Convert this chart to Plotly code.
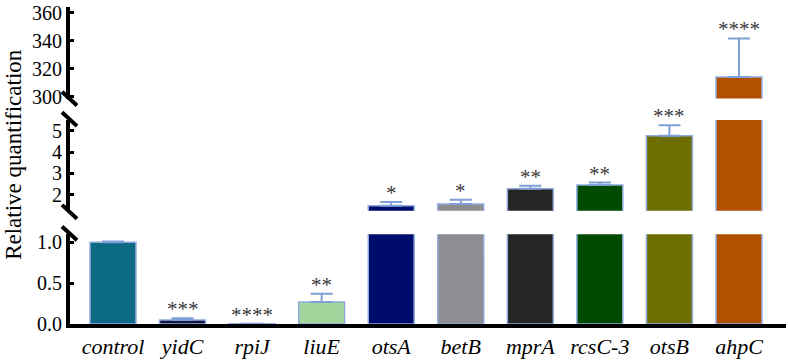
import plotly.graph_objects as go

genes = ["control", "yidC", "rpiJ", "liuE", "otsA", "betB", "mprA", "rcsC-3", "otsB", "ahpC"]
values = [1.0, 0.05, 0.004, 0.27, 1.48, 1.57, 2.28, 2.46, 4.77, 314.0]
errors = [0.01, 0.02, 0.0, 0.10, 0.18, 0.20, 0.14, 0.11, 0.49, 27.5]
stars = ["", "***", "****", "**", "*", "*", "**", "**", "***", "****"]
colors = ["#0c6a85", "#14143c", "#1d1d1d", "#a3d49b", "#000b6e", "#8e8d92",
          "#252525", "#004b00", "#6e6d00", "#b35000"]

# three broken y segments: (axis name, range, domain, tickvals, ticktext)
segments = [
    ("y", [0, 1.1], [0, 0.2835], [0, 0.5, 1.0], ["0.0", "0.5", "1.0"]),
    ("y2", [1.25, 5.5], [0.3573, 0.6432], [2, 3, 4, 5], ["2", "3", "4", "5"]),
    ("y3", [298.5, 364], [0.711, 1.0], [300, 320, 340, 360], ["300", "320", "340", "360"]),
]

FONT = "Liberation Serif"
fig = go.Figure()
x_idx = list(range(len(genes)))
for name, rng, dom, tv, tt in segments:
    fig.add_trace(go.Bar(
        x=x_idx, y=values, yaxis=name, xaxis="x",
        marker=dict(color=colors, line=dict(color="#8eaadb", width=1.5)),
        width=0.66,
        error_y=dict(type="data", symmetric=False, array=errors,
                     arrayminus=[0] * len(errors), color="#7fa0d6",
                     thickness=2, width=11),
        showlegend=False, hoverinfo="skip",
    ))

layout = dict(
    width=788, height=361,
    margin=dict(l=70, r=2, t=6, b=33),
    paper_bgcolor="white", plot_bgcolor="white",
    font=dict(family=FONT, color="black", size=20),
    xaxis=dict(
        range=[-0.618, 9.676], tickvals=x_idx, ticktext=genes,
        showline=True, linecolor="black", linewidth=4, ticks="",
        tickfont=dict(family=FONT, size=22, style="italic", color="black"),
        showgrid=False, zeroline=False, anchor="y",
    ),
)
for name, rng, dom, tv, tt in segments:
    key = "yaxis" if name == "y" else "yaxis" + name[1:]
    layout[key] = dict(
        range=rng, domain=dom, tickvals=tv, ticktext=tt,
        showline=True, linecolor="black", linewidth=4,
        ticks="inside", ticklen=4, tickwidth=3, tickcolor="black",
        tickfont=dict(family=FONT, size=20, color="black"),
        showgrid=False, zeroline=False, anchor="x",
    )
fig.update_layout(**layout)

# significance stars above the error bars
for i, s in enumerate(stars):
    if not s:
        continue
    top = values[i] + errors[i]
    ref = "y"
    for name, rng, dom, tv, tt in segments:
        if rng[0] <= top <= rng[1]:
            ref = name
    fig.add_annotation(x=i, y=top, xref="x", yref=ref, text=s, showarrow=False,
                       yanchor="bottom", yshift=-5,
                       font=dict(family=FONT, size=21, color="#3a3a3a"))

# y-axis title
fig.add_annotation(x=-0.079, y=0.535, xref="paper", yref="paper",
                   text="Relative quantification", textangle=-90, showarrow=False,
                   xanchor="center", yanchor="middle",
                   font=dict(family=FONT, size=23, color="black"))

# axis break marks (diagonal slashes at segment ends)
def px_to_paper_y(py):
    return (328 - py) / 322

def px_to_paper_x(px):
    return (px - 70) / 716

for cy in [99, 120, 214, 236]:
    fig.add_shape(type="line", xref="paper", yref="paper",
                  x0=px_to_paper_x(62), x1=px_to_paper_x(77),
                  y0=px_to_paper_y(cy - 7), y1=px_to_paper_y(cy + 7),
                  line=dict(color="black", width=4))

fig.write_html("out.html", config={"displayModeBar": False},
               post_script="document.body.style.margin='0';")
